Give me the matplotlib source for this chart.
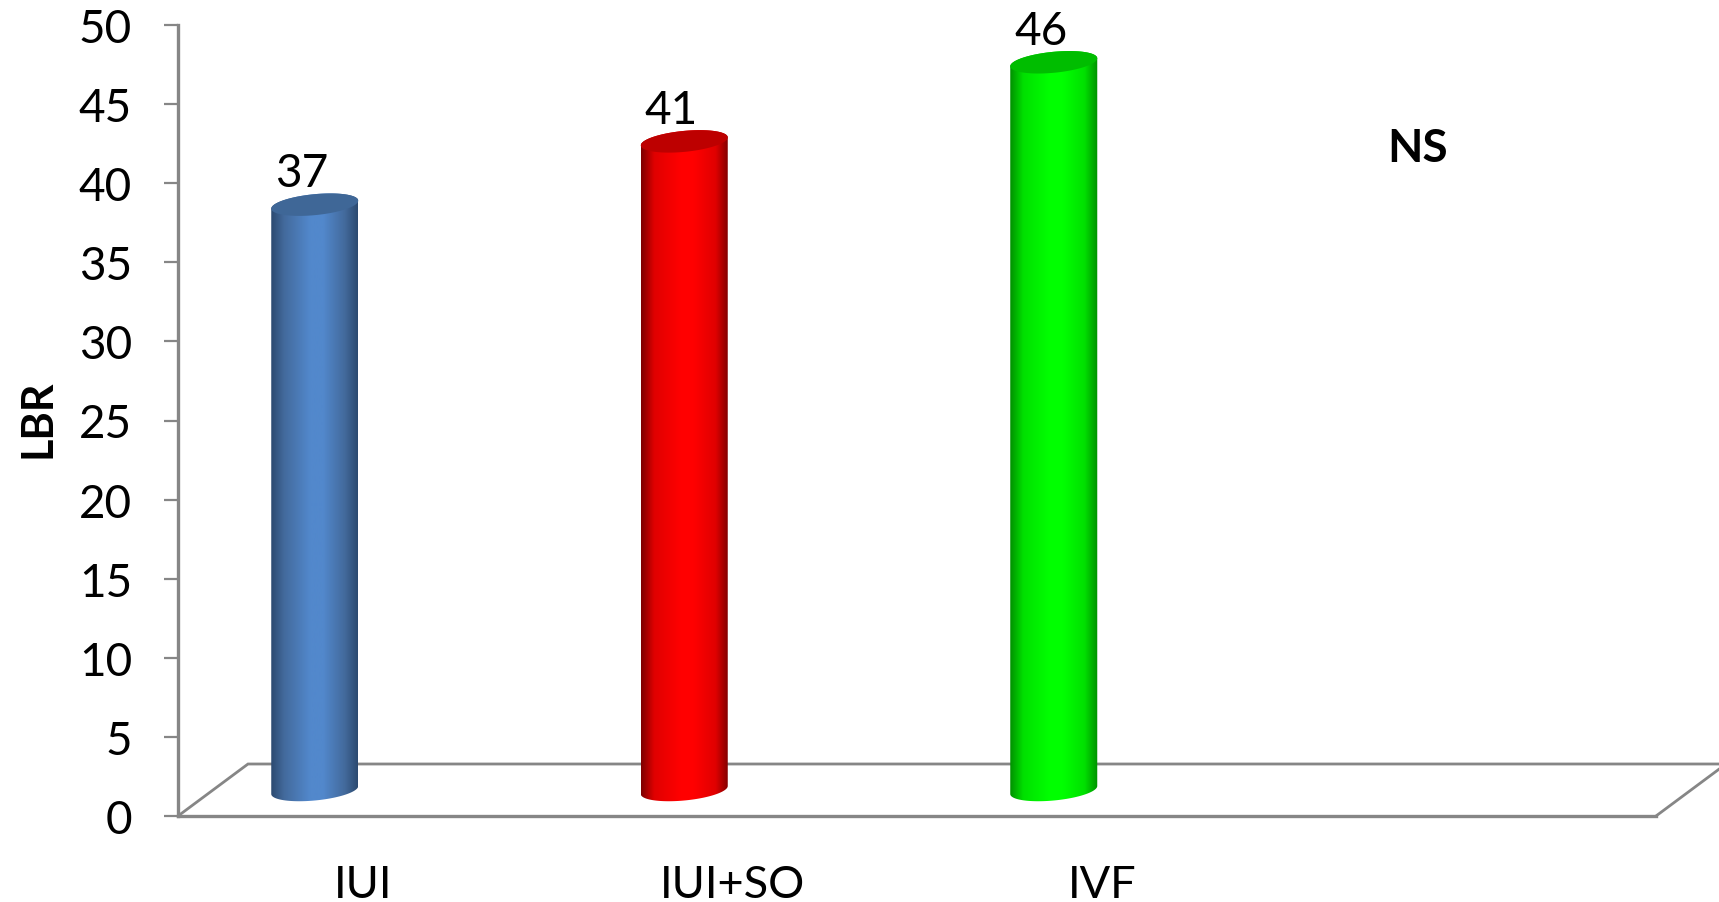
import numpy as np
import matplotlib
matplotlib.use('Agg')
import matplotlib.pyplot as plt
from matplotlib.colors import LinearSegmentedColormap
from matplotlib.patches import PathPatch
from matplotlib.path import Path

categories = ['IUI', 'IUI+SO', 'IVF', '']
values = [37, 41, 46]
y_ticks = [0, 5, 10, 15, 20, 25, 30, 35, 40, 45, 50]

# edge, mid, centre colours of each cylinder and the colour of its cap
side_colors = [
    ['#2c4a70', '#436a9c', '#5288cc'],
    ['#7d0000', '#e00000', '#ff0000'],
    ['#009000', '#00e000', '#00ff00'],
]
cap_colors = ['#3f6797', '#bd0000', '#00bd00']
axis_gray = '#868686'

plt.rcParams['font.family'] = ['Lato', 'DejaVu Sans']

W, H = 1719, 903
fig = plt.figure(figsize=(W / 100, H / 100), dpi=100, facecolor='white')
ax = fig.add_axes([178 / W, (H - 817) / H, 1478 / W, 791 / H])
ax.set_xlim(-0.5, 3.5)
ax.set_ylim(0, 50)

# pixel sizes converted to data units
px_x = 4 / 1478
px_y = 50 / 791
bar_w = 87 * px_x
shift_x = -48 * px_x
base_y = 26 * px_y
floor_dx = 70 * px_x
floor_dy = 52 * px_y


def ring(cx, cy, t):
    # sheared ellipse, the right side sits a little higher than the left
    x = cx + bar_w / 2 * np.cos(t)
    y = cy + 4 * px_y * np.cos(t) + 10.5 * px_y * np.sin(t)
    return x, y


for i, v in enumerate(values):
    cx = i + shift_x
    top = base_y + v

    # body outline: up the left side, over the cap's back and round the bottom
    t_low = np.linspace(np.pi, 2 * np.pi, 60)
    t_up = np.linspace(0, np.pi, 60)
    xb, yb = ring(cx, base_y, t_low)
    xt, yt = ring(cx, top, t_up)
    body = Path(np.column_stack([np.r_[xb, xt], np.r_[yb, yt]]))

    e, m, c = side_colors[i]
    cmap = LinearSegmentedColormap.from_list(
        'side', [(0, e), (0.15, m), (0.45, c), (0.6, c), (0.85, m), (1, e)])
    grad = np.linspace(0, 1, 256).reshape(1, -1)
    im = ax.imshow(grad, cmap=cmap, aspect='auto', zorder=3,
                   extent=[cx - bar_w / 2, cx + bar_w / 2, 0, top + 1])
    im.set_clip_path(PathPatch(body, transform=ax.transData))

    # top cap
    t_all = np.linspace(0, 2 * np.pi, 120)
    xc, yc = ring(cx, top, t_all)
    ax.fill(xc, yc, color=cap_colors[i], lw=0, zorder=4)

    ax.annotate(str(v), (cx, top), xytext=(-9.4, 22.5), textcoords='offset points',
                ha='center', va='center', fontsize=33, color='black',
                annotation_clip=False, zorder=5)

ax.set_xlim(-0.5, 3.5)
ax.set_ylim(0, 50)

# floor of the 3D box
ax.plot([-0.5, -0.5 + floor_dx, 3.5 + floor_dx, 3.5],
        [0, floor_dy, floor_dy, 0],
        color=axis_gray, lw=2.0, clip_on=False, zorder=2, solid_joinstyle='miter')

for s in ['top', 'right']:
    ax.spines[s].set_visible(False)
for s in ['left', 'bottom']:
    ax.spines[s].set_color(axis_gray)
    ax.spines[s].set_linewidth(2.4)

ax.set_yticks(y_ticks)
ax.tick_params(axis='y', length=10, width=1.6, color=axis_gray, pad=23,
               labelsize=33)
for lab in ax.get_yticklabels():
    lab.set_va('center_baseline')
ax.set_xticks(range(len(categories)))
ax.set_xticklabels(categories)
ax.tick_params(axis='x', length=0, pad=34.5, labelsize=32.5)

fig.text(37 / W, 1 - 419 / H, 'LBR', rotation=90, fontsize=31,
         fontweight='bold', ha='center', va='center')
fig.text(1418 / W, 1 - 149 / H, 'NS', fontsize=33, fontweight='bold',
         ha='center', va='center')

fig.savefig('out.png', dpi=100)
